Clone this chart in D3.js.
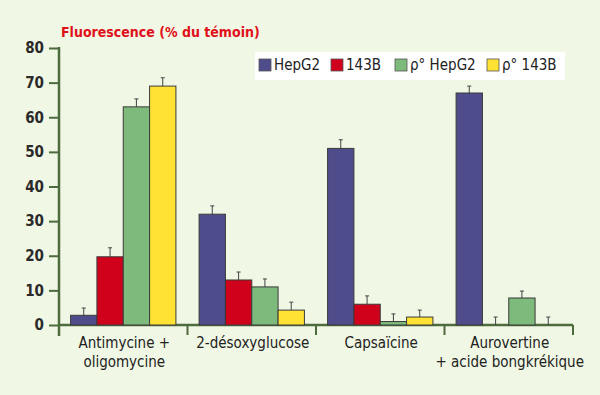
<!DOCTYPE html>
<html>
<head>
<meta charset="utf-8">
<script src="https://cdn.jsdelivr.net/npm/d3@7"></script>
<style>
  body { margin: 0; background: #f0f7e4; }
  svg { display: block; }
  text { font-family: "DejaVu Sans Condensed", "DejaVu Sans", sans-serif; fill: #222; }
</style>
</head>
<body>
<svg id="chart_svg" width="600" height="395"></svg>
<script>
// categories (lines of each label)
const categories = [
  ["Antimycine +", "oligomycine"],
  ["2-désoxyglucose"],
  ["Capsaïcine"],
  ["Aurovertine", "+ acide bongkrékique"]
];
const seriesNames = ["HepG2", "143B", "ρ° HepG2", "ρ° 143B"];
// values per category, one per series
const values = [
  [2.8, 19.7, 63, 69],
  [32, 13, 11, 4.3],
  [51, 6, 1, 2.3],
  [67, 0, 7.8, 0]
];
// error bar tops (value + error)
const errTops = [
  [4.9, 22.3, 65.3, 71.4],
  [34.4, 15.3, 13.3, 6.6],
  [53.5, 8.4, 3.2, 4.3],
  [69, 2.3, 9.8, 2.3]
];
const yTicks = [0, 10, 20, 30, 40, 50, 60, 70, 80];
const colors = ["#4f4c8c", "#d0021b", "#7dba7b", "#ffe233"];

const svg = d3.select("#chart_svg");
const margin = { top: 48, left: 59, right: 27, bottom: 70 };
const width = 600, height = 395;
const axisColor = "#4e6b3e";

const x = d3.scaleBand()
  .domain(d3.range(categories.length))
  .range([margin.left, width - margin.right])
  .paddingInner(0).paddingOuter(0);

const xs = d3.scaleBand()
  .domain(d3.range(seriesNames.length))
  .range([0, x.bandwidth()])
  .paddingOuter(0.44).paddingInner(0);

const y = d3.scaleLinear()
  .domain([0, 80])
  .range([height - margin.bottom, margin.top]);

// title
svg.append("text")
  .attr("x", 61).attr("y", 37)
  .style("fill", "#e0101a")
  .style("font-weight", "bold")
  .style("font-size", "14px")
  .text("Fluorescence (% du témoin)");

// y axis
const g_y = svg.append("g")
  .attr("transform", "translate(" + margin.left + ",0)")
  .call(d3.axisLeft(y).tickValues(yTicks).tickSize(10).tickPadding(5));
g_y.select(".domain").remove();
g_y.selectAll("line").attr("stroke", axisColor).attr("stroke-width", 2);
g_y.selectAll("text")
  .style("font-size", "15px")
  .style("font-weight", "600")
  .style("font-family", "\"DejaVu Sans Condensed\", sans-serif")
  .style("fill", "#2a2a2a");
svg.append("line")
  .attr("x1", margin.left).attr("x2", margin.left)
  .attr("y1", y(80) - 1).attr("y2", y(0) + 11)
  .attr("stroke", axisColor).attr("stroke-width", 2.5);

// x axis baseline + separators
svg.append("line")
  .attr("x1", margin.left).attr("x2", width - margin.right)
  .attr("y1", y(0)).attr("y2", y(0))
  .attr("stroke", axisColor).attr("stroke-width", 2.5);
svg.selectAll(".sep")
  .data(d3.range(1, categories.length + 1))
  .enter().append("line")
  .attr("class", "sep")
  .attr("x1", d => x(d - 1) + x.bandwidth()).attr("x2", d => x(d - 1) + x.bandwidth())
  .attr("y1", y(0)).attr("y2", y(0) + 10)
  .attr("stroke", axisColor).attr("stroke-width", 2);

// bars
const groups = svg.selectAll(".grp")
  .data(categories.map((c, i) => ({ i: i, vals: values[i], errs: errTops[i] })))
  .enter().append("g")
  .attr("class", "grp")
  .attr("transform", d => "translate(" + x(d.i) + ",0)");

groups.each(function(d) {
  const g = d3.select(this);
  const rows = d.vals.map((v, j) => ({ v: v, e: d.errs[j], j: j }));
  // error bars
  rows.forEach(r => {
    const cx = xs(r.j) + xs.bandwidth() / 2;
    g.append("line")
      .attr("x1", cx).attr("x2", cx)
      .attr("y1", y(r.v)).attr("y2", y(r.e))
      .attr("stroke", "#444").attr("stroke-width", 1);
    g.append("line")
      .attr("x1", cx - 2).attr("x2", cx + 2)
      .attr("y1", y(r.e)).attr("y2", y(r.e))
      .attr("stroke", "#444").attr("stroke-width", 1);
  });
  g.selectAll("rect")
    .data(rows.filter(r => r.v > 0))
    .enter().append("rect")
    .attr("x", r => xs(r.j))
    .attr("width", xs.bandwidth())
    .attr("y", r => y(r.v))
    .attr("height", r => y(0) - y(r.v))
    .attr("fill", r => colors[r.j])
    .attr("stroke", "#3a3a3a")
    .attr("stroke-width", 1);
});

// category labels
const labels = svg.selectAll(".cat")
  .data(categories)
  .enter().append("text")
  .attr("class", "cat")
  .attr("text-anchor", "middle")
  .style("font-size", "15px")
  .style("font-weight", "500");
labels.each(function(lines, i) {
  d3.select(this).selectAll("tspan")
    .data(lines)
    .enter().append("tspan")
    .attr("x", x(i) + x.bandwidth() / 2 + 1)
    .attr("y", (l, k) => 348 + k * 19)
    .text(l => l);
});

// legend
const legend = svg.append("g").attr("class", "legend");
legend.append("rect")
  .attr("x", 255).attr("y", 52).attr("width", 310).attr("height", 28)
  .attr("fill", "#ffffff");
const legendX = [259, 331, 395, 487];
const items = legend.selectAll(".legendItem")
  .data(seriesNames)
  .enter().append("g")
  .attr("class", "legendItem")
  .attr("transform", (d, i) => "translate(" + legendX[i] + ",59)");
items.append("rect")
  .attr("width", 12).attr("height", 12)
  .attr("fill", (d, i) => colors[i])
  .attr("stroke", "#555").attr("stroke-width", 0.8);
items.append("text")
  .attr("x", 15).attr("y", 11)
  .style("font-size", "15px")
  .text(d => d);
</script>
</body>
</html>
